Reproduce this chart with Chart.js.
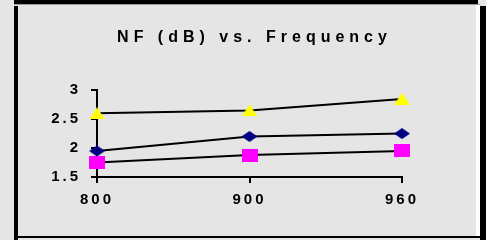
<!DOCTYPE html>
<html>
<head>
<meta charset="utf-8">
<script src="https://cdn.jsdelivr.net/npm/chart.js@4"></script>
<style>
  html, body { margin: 0; padding: 0; background: #e5e5e5; }
  #wrap { position: relative; width: 486px; height: 240px; overflow: hidden; }
  .blk { position: absolute; background: #000; }
  canvas { position: absolute; left: 0; top: 0; }
</style>
</head>
<body>
<div id="wrap">
  <!-- frame around the chart -->
  <div class="blk" style="left:14px;top:0;width:464px;height:4px"></div>
  <div style="position:absolute;left:14px;top:4px;width:466px;height:1px;background:#9a9a9a"></div>
  <div style="position:absolute;left:476px;top:5px;width:4px;height:232px;background:#fff"></div>
  <div class="blk" style="left:480px;top:6px;width:6px;height:234px"></div>
  <div class="blk" style="left:14px;top:6px;width:4px;height:234px"></div>
  <div class="blk" style="left:14px;top:236px;width:466px;height:2px"></div>
  <canvas id="chart" width="486" height="240"></canvas>
</div>
<script>
// data NF per frequency
const freq = ["800", "900", "960"];
const nfTriangle = [2.6, 2.65, 2.85];
const nfDiamond = [1.95, 2.2, 2.25];
const nfSquare = [1.75, 1.88, 1.95];
const yTicks = [1.5, 2, 2.5, 3];

// marker pictures
function marker(w, h, color, shape) {
    const c = document.createElement("canvas");
    c.width = w;
    c.height = h;
    const g = c.getContext("2d");
    g.fillStyle = color;
    g.beginPath();
    if (shape === "tri") {
        g.moveTo(w / 2, 0); g.lineTo(w, h); g.lineTo(0, h);
    } else if (shape === "dia") {
        g.moveTo(w / 2, 0); g.lineTo(w, h / 2); g.lineTo(w / 2, h); g.lineTo(0, h / 2);
    } else {
        g.rect(0, 0, w, h);
    }
    g.closePath();
    g.fill();
    return c;
}

// letter spacing: title wide, ticks a bit less
const spacing = {
    id: "spacing",
    beforeLayout(chart) { chart.ctx.letterSpacing = "3px"; },
    beforeDraw(chart) { chart.ctx.letterSpacing = "5px"; },
    afterDatasetsDraw(chart) { chart.ctx.letterSpacing = "3px"; }
};

const font = { family: "'Liberation Sans', Arial, sans-serif", size: 15, weight: "bold" };
const axisGrid = { drawOnChartArea: false, drawTicks: true, tickLength: 6, color: "#000", lineWidth: 2 };
const axisBorder = { display: true, color: "#000", width: 2 };

function line(values, img) {
    return {
        data: values,
        borderColor: "#000",
        borderWidth: 2,
        tension: 0,
        fill: false,
        pointStyle: img,
        pointRadius: 8,
        pointHoverRadius: 8
    };
}

const ctx = document.getElementById("chart").getContext("2d");
const chart = new Chart(ctx, {
    type: "line",
    data: {
        labels: freq,
        datasets: [
            line(nfTriangle, marker(16, 12, "#ffff00", "tri")),
            line(nfDiamond, marker(16, 11, "#000080", "dia")),
            line(nfSquare, marker(16, 13, "#ff00ff", "sq"))
        ]
    },
    plugins: [spacing],
    options: {
        responsive: false,
        animation: false,
        layout: { padding: { left: 23, right: 0, top: 0, bottom: 0 } },
        plugins: {
            legend: { display: false },
            tooltip: { enabled: false },
            title: {
                display: true,
                text: "NF (dB) vs. Frequency",
                color: "#000",
                font: { family: "'Liberation Sans', Arial, sans-serif", size: 16, weight: "bold" },
                padding: { top: 28, bottom: 43 }
            }
        },
        scales: {
            x: {
                type: "category",
                offset: false,
                grid: axisGrid,
                border: axisBorder,
                ticks: { color: "#000", font: font, padding: 8, z: 1, maxRotation: 0, autoSkip: false },
                afterFit(s) { s.height = 63; }
            },
            y: {
                min: 1.5,
                max: 3,
                afterBuildTicks(s) { s.ticks = yTicks.map(v => ({ value: v })); },
                grid: axisGrid,
                border: axisBorder,
                ticks: { color: "#000", font: font, padding: 10, z: 1, callback: v => String(v) },
                afterFit(s) { s.width = 74; }
            },
            // empty scale on the right, only to keep the plot narrow
            y2: {
                position: "right",
                grid: { display: false },
                border: { display: false },
                ticks: { display: false },
                afterFit(s) { s.width = 84; }
            }
        }
    }
});
</script>
</body>
</html>
